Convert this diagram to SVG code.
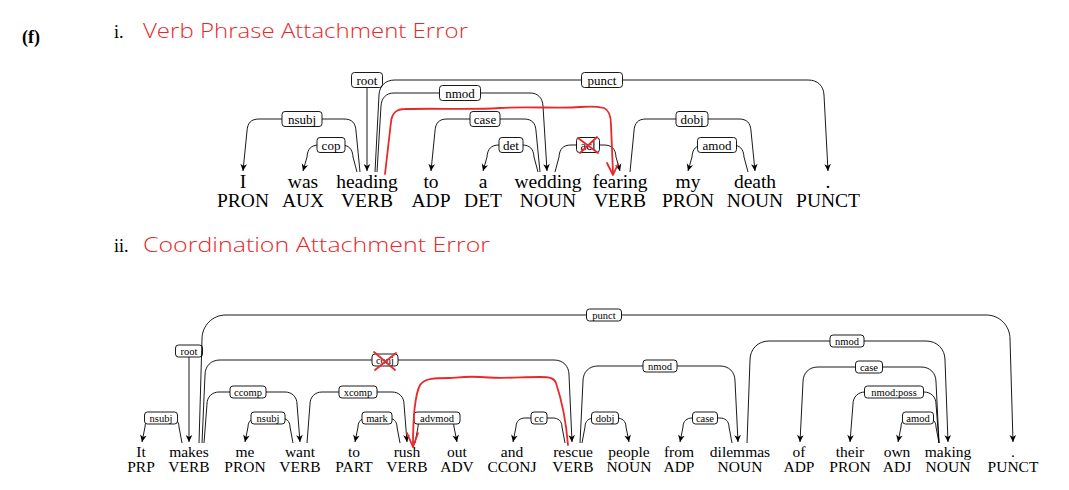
<svg xmlns="http://www.w3.org/2000/svg" width="1069" height="490" viewBox="0 0 1069 490">
<style>
.w{font-family:"Liberation Serif","DejaVu Serif",serif;text-anchor:middle;fill:#000}
.t1{font-size:19.5px}
.t2{font-size:15.5px}
.lb rect{fill:#fff;stroke:#000;stroke-width:0.9}
.l1 text{font-family:"Liberation Serif","DejaVu Serif",serif;font-size:13px;text-anchor:middle}
.l2 text{font-family:"Liberation Serif","DejaVu Serif",serif;font-size:10.5px;text-anchor:middle}
.e{fill:none;stroke:#000;stroke-width:0.9;marker-end:url(#ah)}
.red{fill:none;stroke:#e8292b;stroke-width:1.8;stroke-linecap:round;stroke-linejoin:round}
.hand{font-family:"Open Sans","Liberation Sans",sans-serif;font-weight:300;font-size:21px;fill:#e8292b}
.hd{font-family:"Liberation Serif","DejaVu Serif",serif;font-size:18px}
</style>
<defs>
<marker id="ah" markerUnits="userSpaceOnUse" markerWidth="10" markerHeight="10" viewBox="-8 -5 10 10" refX="0" refY="0" orient="auto">
<path d="M0,0 L-7,-3.3 L-5,0 L-7,3.3 Z" fill="#000"/>
</marker>
</defs>
<rect width="1069" height="490" fill="#fff"/>
<text x="22" y="43" class="hd" font-weight="bold" font-size="19">(f)</text>
<text x="114" y="38" class="hd">i.</text>
<text x="143" y="38" class="hand" textLength="325" lengthAdjust="spacingAndGlyphs">Verb Phrase Attachment Error</text>
<text x="114" y="252" class="hd">ii.</text>
<text x="143" y="252" class="hand" textLength="347" lengthAdjust="spacingAndGlyphs">Coordination Attachment Error</text>

<!-- Sentence 1 nodes -->
<g id="s1-I" class="w t1"><text x="243" y="188">I</text><text x="243" y="207">PRON</text></g>
<g id="s1-was" class="w t1"><text x="303" y="188">was</text><text x="303" y="207">AUX</text></g>
<g id="s1-heading" class="w t1"><text x="367" y="188">heading</text><text x="367" y="207">VERB</text></g>
<g id="s1-to" class="w t1"><text x="431" y="188">to</text><text x="431" y="207">ADP</text></g>
<g id="s1-a" class="w t1"><text x="483" y="188">a</text><text x="483" y="207">DET</text></g>
<g id="s1-wedding" class="w t1"><text x="548" y="188">wedding</text><text x="548" y="207">NOUN</text></g>
<g id="s1-fearing" class="w t1"><text x="620" y="188">fearing</text><text x="620" y="207">VERB</text></g>
<g id="s1-my" class="w t1"><text x="688" y="188">my</text><text x="688" y="207">PRON</text></g>
<g id="s1-death" class="w t1"><text x="755" y="188">death</text><text x="755" y="207">NOUN</text></g>
<g id="s1-punct" class="w t1"><text x="828" y="188">.</text><text x="828" y="207">PUNCT</text></g>

<!-- Sentence 2 nodes -->
<g id="s2-It" class="w t2"><text x="141" y="457">It</text><text x="141" y="472">PRP</text></g>
<g id="s2-makes" class="w t2"><text x="189" y="457">makes</text><text x="189" y="472">VERB</text></g>
<g id="s2-me" class="w t2"><text x="245" y="457">me</text><text x="245" y="472">PRON</text></g>
<g id="s2-want" class="w t2"><text x="300" y="457">want</text><text x="300" y="472">VERB</text></g>
<g id="s2-to" class="w t2"><text x="354" y="457">to</text><text x="354" y="472">PART</text></g>
<g id="s2-rush" class="w t2"><text x="407" y="457">rush</text><text x="407" y="472">VERB</text></g>
<g id="s2-out" class="w t2"><text x="457" y="457">out</text><text x="457" y="472">ADV</text></g>
<g id="s2-and" class="w t2"><text x="512" y="457">and</text><text x="512" y="472">CCONJ</text></g>
<g id="s2-rescue" class="w t2"><text x="573" y="457">rescue</text><text x="573" y="472">VERB</text></g>
<g id="s2-people" class="w t2"><text x="629" y="457">people</text><text x="629" y="472">NOUN</text></g>
<g id="s2-from" class="w t2"><text x="679" y="457">from</text><text x="679" y="472">ADP</text></g>
<g id="s2-dilemmas" class="w t2"><text x="740" y="457">dilemmas</text><text x="740" y="472">NOUN</text></g>
<g id="s2-of" class="w t2"><text x="799" y="457">of</text><text x="799" y="472">ADP</text></g>
<g id="s2-their" class="w t2"><text x="850" y="457">their</text><text x="850" y="472">PRON</text></g>
<g id="s2-own" class="w t2"><text x="897" y="457">own</text><text x="897" y="472">ADJ</text></g>
<g id="s2-making" class="w t2"><text x="948" y="457">making</text><text x="948" y="472">NOUN</text></g>
<g id="s2-punct" class="w t2"><text x="1013" y="457">.</text><text x="1013" y="472">PUNCT</text></g>

<g id="connectors">
 <g id="s1-edges" class="lb l1">
  <path class="e" d="M367,88 L367,171"/>
  <rect x="351.5" y="72.5" width="31" height="15" rx="3"/><text x="367" y="84.5">root</text>

  <path class="e" d="M375,172 L379,95 C379.5,86 385,80 395,80 L808,80 C818,80 823.5,86 824,95 L828,171"/>
  <rect x="581.5" y="72.5" width="41" height="15" rx="3"/><text x="602" y="84.5">punct</text>

  <path class="e" d="M377,172 L381,106 C381.5,98 386,93 394,93 L530,93 C538,93 542.5,98 543,106 L547,171"/>
  <rect x="439.5" y="85.5" width="41" height="15" rx="3"/><text x="460" y="97.5">nmod</text>

  <path class="e" d="M360,172 L356,131 C355.5,123 352,119 344,119 L259,119 C251,119 247.5,123 247,131 L243,171"/>
  <rect x="282" y="111.5" width="40" height="15" rx="3"/><text x="302" y="123.5">nsubj</text>

  <path class="e" d="M357,172 L353,157 C352.5,149 349,145 341,145 L319,145 C311,145 307.5,149 307,157 L303,171"/>
  <rect x="317" y="137.5" width="28" height="15" rx="3"/><text x="331" y="149.5">cop</text>

  <path class="e" d="M540,172 L536,131 C535.5,123 532,119 524,119 L447,119 C439,119 435.5,123 435,131 L431,171"/>
  <rect x="470" y="111.5" width="30" height="15" rx="3"/><text x="485" y="123.5">case</text>

  <path class="e" d="M538,172 L534,157 C533.5,149 530,145 522,145 L499,145 C491,145 487.5,149 487,157 L483,171"/>
  <rect x="499" y="137.5" width="24" height="15" rx="3"/><text x="511" y="149.5">det</text>

  <path class="e" d="M555,172 L559,157 C559.5,149 563,145 571,145 L604,145 C612,145 615.5,149 616,157 L620,171"/>
  <rect x="576.5" y="137.5" width="23" height="15" rx="3"/><text x="588" y="149.5">acl</text>

  <path class="e" d="M630,172 L634,131 C634.5,123 638,119 646,119 L739,119 C747,119 750.5,123 751,131 L755,171"/>
  <rect x="676" y="111.5" width="32" height="15" rx="3"/><text x="692" y="123.5">dobj</text>

  <path class="e" d="M748,172 L744,157 C743.5,149 740,145 732,145 L704,145 C696,145 692.5,149 692,157 L688,171"/>
  <rect x="697.5" y="137.5" width="39" height="15" rx="3"/><text x="717" y="149.5">amod</text>
 </g>

 <g id="s2-edges" class="lb l2">
  <path class="e" d="M189,357 L189,442"/>
  <rect x="175.5" y="345" width="27" height="12" rx="3"/><text x="189" y="354.5">root</text>

  <path class="e" d="M199,443 L202,339 C202,326 212,315 226,315 L986,315 C1000,315 1010,326 1010,339 L1013,442"/>
  <rect x="586.5" y="309" width="35" height="12" rx="3"/><text x="604" y="318.5">punct</text>

  <path class="e" d="M202,443 L205,375 C205,366 211,360 220,360 L554,360 C563,360 569,366 569,375 L572,442"/>
  <rect x="372" y="354" width="26" height="12" rx="3"/><text x="385" y="363.5">conj</text>

  <path class="e" d="M204,443 L207,404 C207,397 212,392 219,392 L285,392 C292,392 297,397 297,404 L300,442"/>
  <rect x="230" y="386" width="36" height="12" rx="3"/><text x="248" y="395.5">ccomp</text>

  <path class="e" d="M307,443 L310,404 C310,397 315,392 322,392 L392,392 C399,392 404,397 404,404 L407,442"/>
  <rect x="339" y="386" width="38" height="12" rx="3"/><text x="358" y="395.5">xcomp</text>

  <path class="e" d="M182,443 L179,427 C179,421 175,418 170,418 L154,418 C149,418 145,421 145,427 L142,442"/>
  <rect x="144.5" y="412" width="33" height="12" rx="3"/><text x="161" y="421.5">nsubj</text>

  <path class="e" d="M293,443 L290,427 C290,421 286,418 281,418 L257,418 C252,418 248,421 248,427 L245,442"/>
  <rect x="251" y="412" width="34" height="12" rx="3"/><text x="268" y="421.5">nsubj</text>

  <path class="e" d="M400,443 L397,427 C397,421 393,418 388,418 L367,418 C362,418 358,421 358,427 L355,442"/>
  <rect x="362" y="412" width="30" height="12" rx="3"/><text x="377" y="421.5">mark</text>

  <path class="e" d="M415,443 L418,427 C418,421 422,418 427,418 L445,418 C450,418 454,421 454,427 L457,442"/>
  <rect x="414" y="412" width="46" height="12" rx="3"/><text x="437" y="421.5">advmod</text>

  <path class="e" d="M565,443 L562,427 C562,421 558,418 553,418 L525,418 C520,418 516,421 516,427 L513,442"/>
  <rect x="531" y="412" width="16" height="12" rx="3"/><text x="539" y="421.5">cc</text>

  <path class="e" d="M582,443 L585,427 C585,421 589,418 594,418 L617,418 C622,418 626,421 626,427 L629,442"/>
  <rect x="591.5" y="412" width="27" height="12" rx="3"/><text x="605" y="421.5">dobj</text>

  <path class="e" d="M580,443 L583,381 C583,372 589,366 598,366 L720,366 C729,366 735,372 735,381 L738,442"/>
  <rect x="643" y="360" width="34" height="12" rx="3"/><text x="660" y="369.5">nmod</text>

  <path class="e" d="M732,443 L729,427 C729,421 725,418 720,418 L692,418 C687,418 683,421 683,427 L680,442"/>
  <rect x="692.5" y="412" width="25" height="12" rx="3"/><text x="705" y="421.5">case</text>

  <path class="e" d="M747,443 L750,360 C750,349 758,341 769,341 L926,341 C937,341 945,349 945,360 L948,442"/>
  <rect x="830" y="335" width="34" height="12" rx="3"/><text x="847" y="344.5">nmod</text>

  <path class="e" d="M939,443 L936,382 C936,373 930,367 921,367 L818,367 C809,367 803,373 803,382 L800,442"/>
  <rect x="855.5" y="361" width="27" height="12" rx="3"/><text x="869" y="370.5">case</text>

  <path class="e" d="M939,443 L936,404 C936,397 931,392 924,392 L865,392 C858,392 853,397 853,404 L850,442"/>
  <rect x="864.5" y="386" width="59" height="12" rx="3"/><text x="894" y="395.5">nmod:poss</text>

  <path class="e" d="M939,443 L936,427 C936,421 932,418 927,418 L910,418 C905,418 901,421 901,427 L898,442"/>
  <rect x="902.5" y="412" width="31" height="12" rx="3"/><text x="918" y="421.5">amod</text>
 </g>
</g>

<!-- red annotations -->
<g id="annotations">
 <path class="red" d="M385,174 L391,122 C392,113 396,109 405,109 C440,108 470,110 500,108 C530,106 560,109 580,107 C592,106 600,107 604,108 C609,110 611,115 611,125 L613,173"/>
 <path class="red" d="M607,163 L613,175 L618,164"/>
 <path class="red" d="M578,138 L598,153 M597,137 L580,153"/>
 <path class="red" d="M568,445 C566,420 560,395 556,383 C554,378 550,377 540,377 C520,377 500,379 480,377 C465,376 455,378 450,378 C435,378 425,378 420,385 C415,395 413,420 413,446"/>
 <path class="red" d="M407,433 L413,447 L418,433"/>
 <path class="red" d="M374,352 L395,370 M396,353 L375,370"/>
</g>
</svg>
